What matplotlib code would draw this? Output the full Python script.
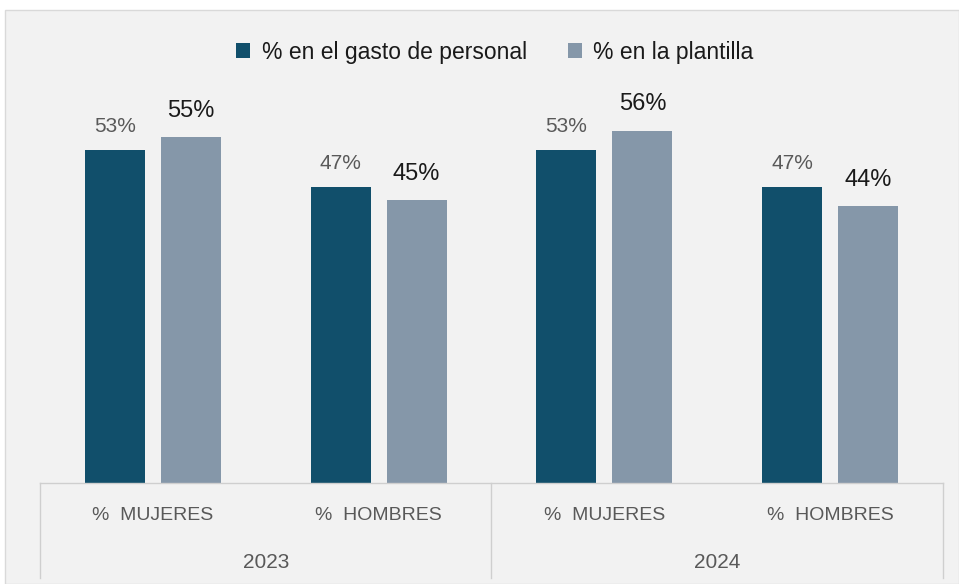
import matplotlib.pyplot as plt
from matplotlib.patches import Rectangle

years = ["2023", "2024"]
categories = ["%  MUJERES", "%  HOMBRES", "%  MUJERES", "%  HOMBRES"]
series_names = ["% en el gasto de personal", "% en la plantilla"]
gasto = [53, 47, 53, 47]
plantilla = [55, 45, 56, 44]

dark = "#114f6b"
light = "#8597a9"
bg = "#f2f2f2"

W, H = 959, 584
fig = plt.figure(figsize=(W / 100, H / 100), dpi=100)
fig.patch.set_facecolor("white")
fig.patches.append(Rectangle((5 / W, 0), 1 - 5 / W, 1 - 10 / H, transform=fig.transFigure,
                             facecolor=bg, edgecolor="#d9d9d9", lw=1, zorder=-10))

left, right, bottom, top = 40, 943, 483, 105.6
ax = fig.add_axes([left / W, 1 - bottom / H, (right - left) / W, (bottom - top) / H])
ax.set_facecolor("none")
ax.set_xlim(-0.5, 3.5)
ax.set_ylim(0, 60)
for s in ax.spines.values():
    s.set_visible(False)
ax.set_xticks([])
ax.set_yticks([])

x = list(range(len(categories)))
w = 60 / 225.5
off = 38 / 225.5
b1 = ax.bar([i - off for i in x], gasto, width=w, color=dark, label=series_names[0])
b2 = ax.bar([i + off for i in x], plantilla, width=w, color=light, label=series_names[1])

fam = ["Liberation Sans", "DejaVu Sans"]
for rect, v in zip(b1, gasto):
    ax.annotate(f"{v}%", (rect.get_x() + rect.get_width() / 2, v), xytext=(0, 10),
                textcoords="offset points", ha="center", va="bottom",
                fontsize=15, color="#595959", family=fam)
for rect, v in zip(b2, plantilla):
    ax.annotate(f"{v}%", (rect.get_x() + rect.get_width() / 2, v), xytext=(0, 11),
                textcoords="offset points", ha="center", va="bottom",
                fontsize=17, color="#1a1a1a", family=fam)

tr = ax.get_xaxis_transform()
lc = "#cfcfcf"
ax.plot([-0.5, 3.5], [0, 0], color=lc, lw=1, transform=tr, clip_on=False)
for xv in [-0.5, 1.5, 3.5]:
    ax.plot([xv, xv], [0, -95 / 377.4], color=lc, lw=1, transform=tr, clip_on=False)

for i, c in enumerate(categories):
    ax.text(i, -32 / 377.4, c, transform=tr, ha="center", va="center",
            fontsize=14, color="#595959", family=fam)
for j, yname in enumerate(years):
    ax.text(0.5 + 2 * j, -79 / 377.4, yname, transform=tr, ha="center", va="center",
            fontsize=15, color="#595959", family=fam)

leg = fig.legend(handles=[b1, b2], labels=series_names, loc="center",
                 bbox_to_anchor=(495 / W, 1 - 52 / H), ncol=2, frameon=False,
                 handlelength=0.6, handleheight=0.6, handletextpad=0.5, columnspacing=1.8,
                 prop={"family": fam, "size": 16.5})
for t in leg.get_texts():
    t.set_color("#1a1a1a")

fig.savefig("out.png", dpi=100, facecolor=fig.get_facecolor())
